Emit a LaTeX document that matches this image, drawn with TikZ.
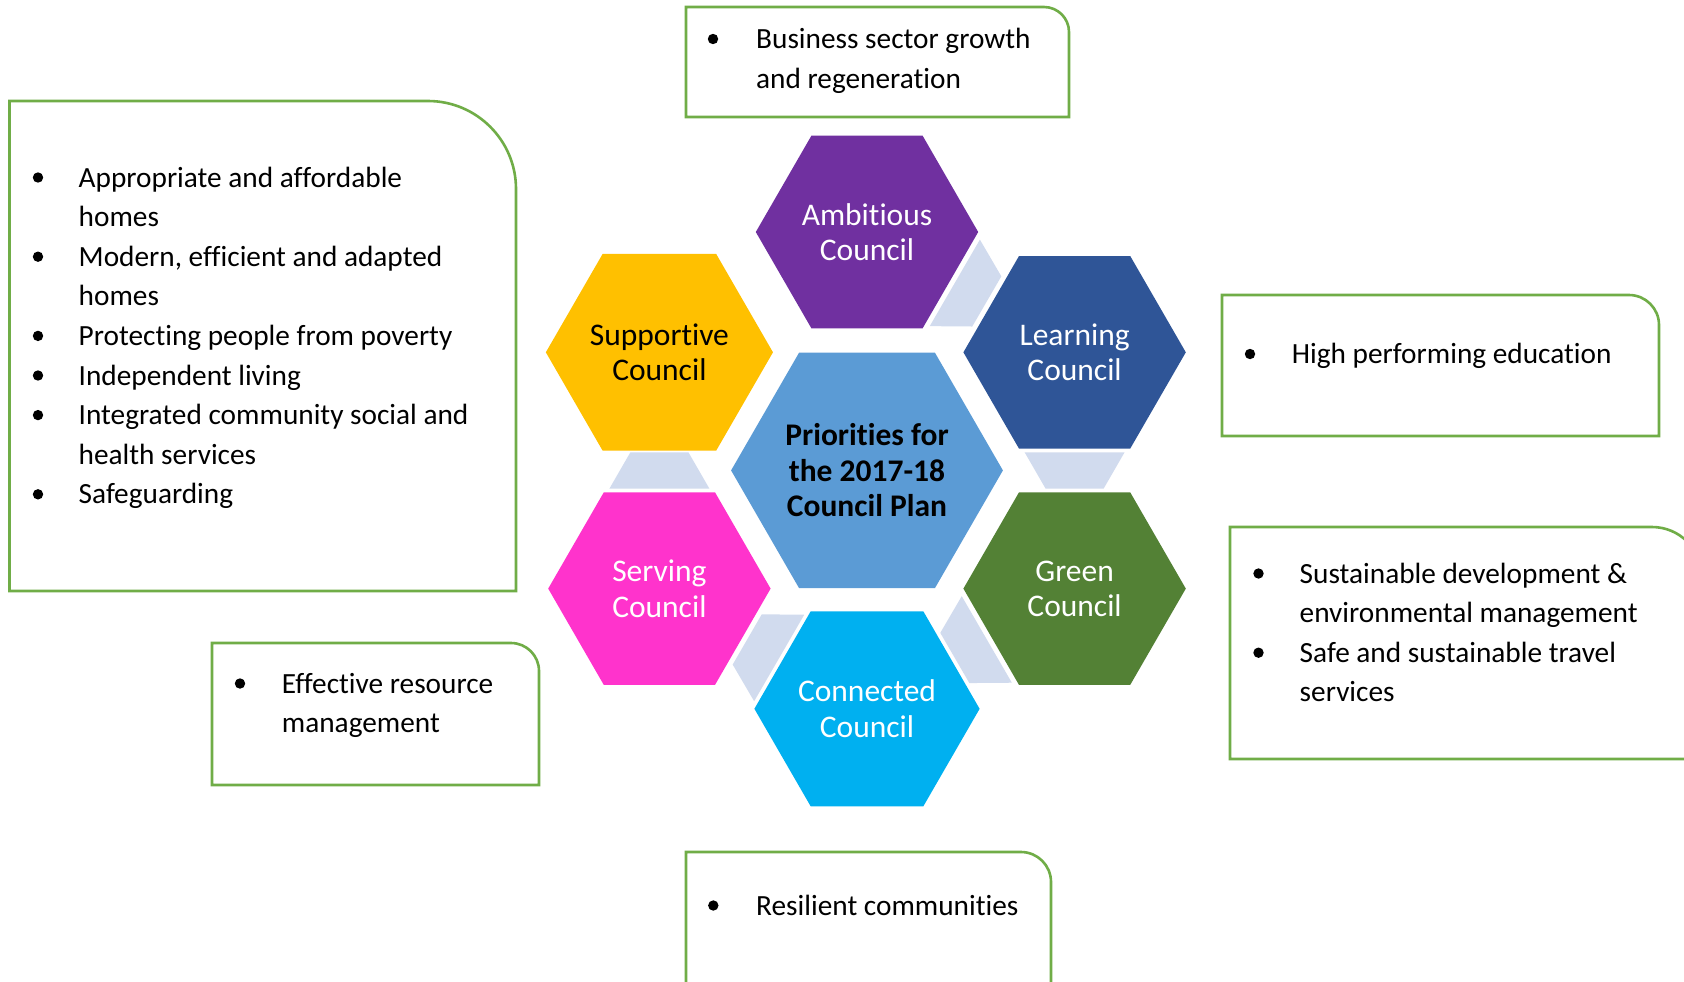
\documentclass[tikz,border=0pt]{standalone}
\usepackage{fontspec}
\setmainfont{Carlito}[RawFeature={-liga;-clig;-dlig;-calt}]
\usetikzlibrary{shapes.geometric,calc}
\definecolor{cAmb}{HTML}{7030A0}
\definecolor{cSup}{HTML}{FFC000}
\definecolor{cLea}{HTML}{2F5597}
\definecolor{cCen}{HTML}{5B9BD5}
\definecolor{cSer}{HTML}{FF33CC}
\definecolor{cGre}{HTML}{538135}
\definecolor{cCon}{HTML}{00B0F0}
\definecolor{cLink}{HTML}{D1DBEE}
\definecolor{cBox}{HTML}{70AD47}
\tikzset{
  hexsmall/.style={regular polygon, regular polygon sides=6, minimum size=222.4bp,
    inner sep=0pt, align=center, text=white,
    font=\fontsize{31.5bp}{35.4bp}\selectfont},
  hexbig/.style={hexsmall, minimum size=271.8bp, text=black,
    font=\bfseries\fontsize{31.5bp}{35.4bp}\selectfont},
  infobox/.style={draw=cBox, line width=2.6bp},
  boxtext/.style={anchor=base west, inner sep=0pt, font=\fontsize{29.3bp}{39.6bp}\selectfont},
  bulletdot/.style={fill=black},
  linkshape/.style={fill=cLink}
}
\newcommand{\hexlink}[2]{%
  \path ($(#1)!0.423!(#2)$) coordinate (lw) ($(#1)!0.577!(#2)$) coordinate (ln);
  \fill[linkshape] ($(lw)!50bp!90:(#2)$) -- ($(ln)!29bp!90:(#2)$)
     -- ($(ln)!29bp!-90:(#2)$) -- ($(lw)!50bp!-90:(#2)$) -- cycle;}
% box with rounded top-right corner: x1,y1,x2,y2,r
\newcommand{\rbox}[5]{%
  \draw[infobox] (#1,#4) -- (#1,#2) -- ({#3-#5},#2)
    .. controls ({#3-0.448*#5},#2) and (#3,{#2+0.448*#5}) .. (#3,{#2+#5})
    -- (#3,#4) -- cycle;}
\newcommand{\bdot}[2]{\fill[bulletdot] (#1,{#2-9.5}) circle (5.2bp);}
\begin{document}
\begin{tikzpicture}[x=1bp,y=-1bp]
\useasboundingbox (0,0) rectangle (1684,981);
\fill[white] (0,0) rectangle (1684,981);
\clip (0,0) rectangle (1684,981);

% hexagons
\node[hexsmall, fill=cAmb] (amb) at (867,232) {Ambitious\\Council};
\node[hexsmall, fill=cSup, text=black] (sup) at (659.4,352.3) {Supportive\\Council};
\node[hexsmall, fill=cLea] (lea) at (1074.6,352.3) {Learning\\Council};
\node[hexbig, fill=cCen] (cen) at (867,470.4) {Priorities for\\the 2017-18\\Council Plan};
\node[hexsmall, fill=cSer] (ser) at (659.4,588.6) {Serving\\Council};
\node[hexsmall, fill=cGre] (gre) at (1074.6,588.6) {Green\\Council};
\node[hexsmall, fill=cCon] (con) at (867,708.8) {Connected\\Council};

% link shapes between neighbouring hexagons
\hexlink{amb}{lea}
\hexlink{lea}{gre}
\hexlink{gre}{con}
\hexlink{con}{ser}
\hexlink{ser}{sup}

% boxes
\rbox{686}{7}{1069}{117}{25}
\rbox{9.5}{101}{516}{591}{88}
\rbox{1222}{295}{1659}{436}{30}
\rbox{1230}{527}{1702}{759}{50}
\rbox{212}{643}{539}{785}{28}
\rbox{686}{852}{1051}{1010}{30}

% top box
\bdot{713}{48.5}
\node[boxtext] (t1) at (756,48.5) {Business sector growth};
\node[boxtext] (t2) at (756,88.1) {and regeneration};

% left box
\bdot{38}{187}
\node[boxtext] (l1) at (78.5,187) {Appropriate and affordable};
\node[boxtext] (l2) at (78.5,226.6) {homes};
\bdot{38}{266.2}
\node[boxtext] (l3) at (78.5,266.2) {Modern, efficient and adapted};
\node[boxtext] (l4) at (78.5,305.8) {homes};
\bdot{38}{345.4}
\node[boxtext] (l5) at (78.5,345.4) {Protecting people from poverty};
\bdot{38}{385}
\node[boxtext] (l6) at (78.5,385) {Independent living};
\bdot{38}{424.6}
\node[boxtext] (l7) at (78.5,424.6) {Integrated community social and};
\node[boxtext] (l8) at (78.5,464.2) {health services};
\bdot{38}{503.8}
\node[boxtext] (l9) at (78.5,503.8) {Safeguarding};

% high performing box
\bdot{1250}{363.5}
\node[boxtext] (h1) at (1291.7,363.5) {High performing education};

% sustainable box
\bdot{1258.5}{583}
\node[boxtext] (s1) at (1299.5,583) {Sustainable development \&};
\node[boxtext] (s2) at (1299.5,622.6) {environmental management};
\bdot{1258.5}{662.2}
\node[boxtext] (s3) at (1299.5,662.2) {Safe and sustainable travel};
\node[boxtext] (s4) at (1299.5,701.8) {services};

% effective box
\bdot{240}{693}
\node[boxtext] (e1) at (281.7,693) {Effective resource};
\node[boxtext] (e2) at (281.7,732.6) {management};

% resilient box
\bdot{713.3}{915}
\node[boxtext] (r1) at (756,915) {Resilient communities};
\end{tikzpicture}
\end{document}
